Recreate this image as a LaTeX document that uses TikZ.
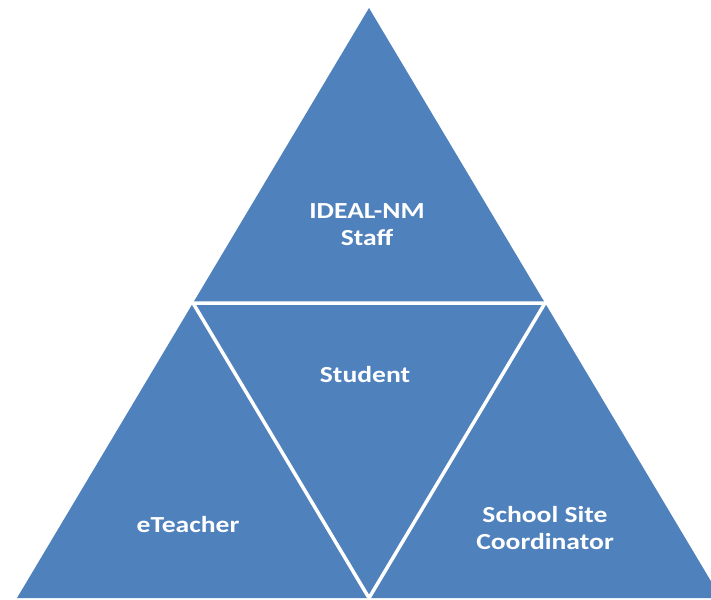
\documentclass[tikz,border=0pt]{standalone}
\usepackage{fontspec}
\setmainfont{Carlito}[FakeStretch=1.2]
\definecolor{triblue}{RGB}{79,129,189}
\tikzset{
  part/.style={fill=triblue,draw=none},
  cut/.style={white,line width=3.5pt,line join=miter},
  lbl/.style={text=white,font=\fontsize{23}{27}\selectfont\bfseries,align=center,inner sep=0pt}
}
\begin{document}
\begin{tikzpicture}[x=1pt,y=-1pt]
  % Picture frame
  \useasboundingbox (0,0) rectangle (711,599);

  % Corners of the big triangle
  \coordinate (apex) at (369,8);
  \coordinate (bl) at (17,598);
  \coordinate (br) at (721,598);

  % Midpoints of the sides
  \coordinate (ml) at (193,303);
  \coordinate (mr) at (545,303);
  \coordinate (mb) at (369,598);

  % Big triangle
  \fill[part] (apex) -- (br) -- (bl) -- cycle;

  % White cuts between the four parts
  \draw[cut] (ml) -- (mr) -- (mb) -- cycle;

  % Labels
  \node[lbl] (staff) at (367,225) {IDEAL-NM\\Staff};
  \node[lbl] (student) at (365,375) {Student};
  \node[lbl] (eteacher) at (188,525) {eTeacher};
  \node[lbl] (coord) at (545,528) {School Site\\Coordinator};

\end{tikzpicture}
\end{document}
